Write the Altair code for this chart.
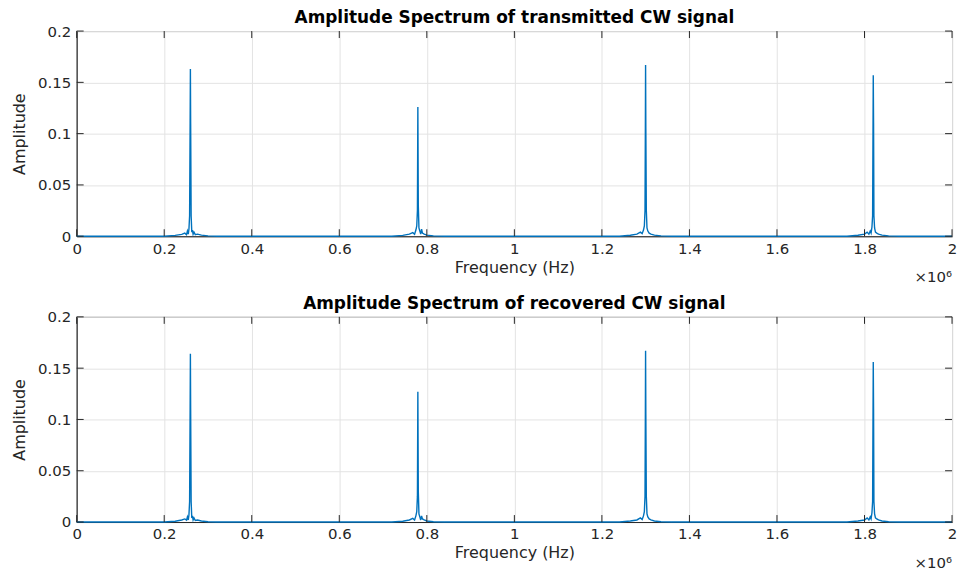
import altair as alt
import pandas as pd

# Frequency in units of 1e6 Hz, amplitude values
top_freq = [0.000, 0.200, 0.225, 0.240, 0.247, 0.251, 0.253, 0.255, 0.2565, 0.258, 0.2592, 0.2598, 0.2604,
            0.2615, 0.263, 0.2645, 0.266, 0.268, 0.271, 0.276, 0.285, 0.300, 0.320,
            0.720, 0.745, 0.760, 0.768, 0.772, 0.775, 0.777, 0.7785, 0.7795, 0.7805, 0.782, 0.784, 0.786,
            0.788, 0.790, 0.794, 0.800, 0.815, 0.840,
            1.240, 1.265, 1.280, 1.288, 1.292, 1.295, 1.297, 1.2985, 1.2993, 1.2998, 1.3004, 1.3015, 1.303,
            1.305, 1.308, 1.312, 1.320, 1.335, 1.360,
            1.760, 1.785, 1.800, 1.806, 1.810, 1.813, 1.815, 1.817, 1.8185, 1.8195, 1.8200, 1.8207, 1.8215,
            1.823, 1.825, 1.828, 1.832, 1.840, 1.855, 1.880, 2.000]
top_amp = [0, 0, 0.0008, 0.0018, 0.003, 0.0015, 0.005, 0.002, 0.007, 0.02, 0.11, 0.163, 0.11,
           0.02, 0.004, 0.006, 0.002, 0.004, 0.0015, 0.002, 0.001, 0.0003, 0,
           0, 0.0008, 0.002, 0.0035, 0.002, 0.006, 0.01, 0.025, 0.126, 0.03, 0.008, 0.005, 0.002,
           0.007, 0.003, 0.002, 0.001, 0.0003, 0,
           0, 0.001, 0.002, 0.004, 0.0025, 0.006, 0.01, 0.025, 0.105, 0.167, 0.105, 0.025, 0.008,
           0.005, 0.003, 0.002, 0.001, 0.0003, 0,
           0, 0.001, 0.002, 0.004, 0.002, 0.005, 0.003, 0.009, 0.02, 0.11, 0.157, 0.11, 0.02,
           0.008, 0.004, 0.003, 0.002, 0.001, 0.0003, 0, 0]

bot_freq = [0.000, 0.200, 0.225, 0.240, 0.247, 0.251, 0.253, 0.255, 0.2565, 0.258, 0.2592, 0.2598, 0.2604,
            0.2615, 0.263, 0.2645, 0.266, 0.268, 0.271, 0.276, 0.285, 0.300, 0.320,
            0.720, 0.745, 0.760, 0.768, 0.772, 0.775, 0.777, 0.7785, 0.7795, 0.7805, 0.782, 0.784, 0.786,
            0.788, 0.790, 0.794, 0.800, 0.815, 0.840,
            1.240, 1.265, 1.280, 1.288, 1.292, 1.295, 1.297, 1.2985, 1.2993, 1.2998, 1.3004, 1.3015, 1.303,
            1.305, 1.308, 1.312, 1.320, 1.335, 1.360,
            1.760, 1.785, 1.800, 1.806, 1.810, 1.813, 1.815, 1.817, 1.8185, 1.8195, 1.8200, 1.8207, 1.8215,
            1.823, 1.825, 1.828, 1.832, 1.840, 1.855, 1.880, 2.000]
bot_amp = [0, 0, 0.0008, 0.002, 0.003, 0.0018, 0.005, 0.002, 0.007, 0.02, 0.11, 0.164, 0.11,
           0.02, 0.004, 0.006, 0.002, 0.004, 0.0015, 0.002, 0.001, 0.0003, 0,
           0, 0.0008, 0.002, 0.0035, 0.002, 0.006, 0.01, 0.025, 0.127, 0.03, 0.008, 0.005, 0.002,
           0.006, 0.003, 0.002, 0.001, 0.0003, 0,
           0, 0.001, 0.002, 0.004, 0.0025, 0.006, 0.01, 0.025, 0.105, 0.167, 0.105, 0.025, 0.008,
           0.005, 0.003, 0.002, 0.001, 0.0003, 0,
           0, 0.001, 0.002, 0.004, 0.002, 0.005, 0.003, 0.009, 0.02, 0.11, 0.156, 0.11, 0.02,
           0.008, 0.004, 0.003, 0.002, 0.001, 0.0003, 0, 0]

x_ticks = [0, 0.2, 0.4, 0.6, 0.8, 1.0, 1.2, 1.4, 1.6, 1.8, 2.0]
y_ticks = [0, 0.05, 0.1, 0.15, 0.2]

W, H = 879, 206
INK = "#262626"


def panel(freq, amp, title):
    df = pd.DataFrame({"f": freq, "a": amp})
    x = alt.X("f:Q", scale=alt.Scale(domain=[0, 2], nice=False),
              axis=alt.Axis(values=x_ticks, format="~g", title="Frequency (Hz)",
                            labelFlush=False, labelOverlap=False, ticks=False,
                            labelPadding=5, titlePadding=3))
    y = alt.Y("a:Q", scale=alt.Scale(domain=[0, 0.2], nice=False),
              axis=alt.Axis(values=y_ticks, format="~g", title="Amplitude",
                            labelFlush=False, labelOverlap=False, ticks=False,
                            labelPadding=6, titlePadding=10))
    line = alt.Chart(df).mark_line(color="#0072BD", strokeWidth=1.4).encode(x=x, y=y)
    xt = pd.DataFrame({"t": x_ticks})
    yt = pd.DataFrame({"t": y_ticks})
    tick_b = alt.Chart(xt).mark_rule(color=INK, strokeWidth=1).encode(
        x="t:Q", y=alt.value(H - 7), y2=alt.value(H))
    tick_t = alt.Chart(xt).mark_rule(color=INK, strokeWidth=1).encode(
        x="t:Q", y=alt.value(0), y2=alt.value(7))
    tick_l = alt.Chart(yt).mark_rule(color=INK, strokeWidth=1).encode(
        y="t:Q", x=alt.value(0), x2=alt.value(7))
    tick_r = alt.Chart(yt).mark_rule(color=INK, strokeWidth=1).encode(
        y="t:Q", x=alt.value(W - 7), x2=alt.value(W))
    exp = alt.Chart(pd.DataFrame({"s": ["×10⁶"]})).mark_text(
        align="right", baseline="middle", fontSize=15, color=INK, font="DejaVu Sans").encode(
        text="s:N", x=alt.value(W), y=alt.value(H + 41))
    return alt.layer(line, tick_b, tick_t, tick_l, tick_r, exp).properties(
        width=W, height=H,
        title=alt.TitleParams(title, fontSize=17, fontWeight="bold", font="DejaVu Sans",
                              color="#000000", offset=-3))


chart = alt.vconcat(
    panel(top_freq, top_amp, "Amplitude Spectrum of transmitted CW signal"),
    panel(bot_freq, bot_amp, "Amplitude Spectrum of recovered CW signal"),
    spacing=8,
).properties(padding={"left": 11, "top": 7, "right": 5, "bottom": 0}, background="white").configure_view(
    stroke=INK, strokeWidth=1
).configure_axis(
    labelFont="DejaVu Sans", titleFont="DejaVu Sans", labelFontSize=15, titleFontSize=16,
    labelColor=INK, titleColor=INK, titleFontWeight="normal",
    gridColor="#e3e3e3", domainColor=INK
)

chart.save("out.html", embed_options={"renderer": "svg", "actions": False})
